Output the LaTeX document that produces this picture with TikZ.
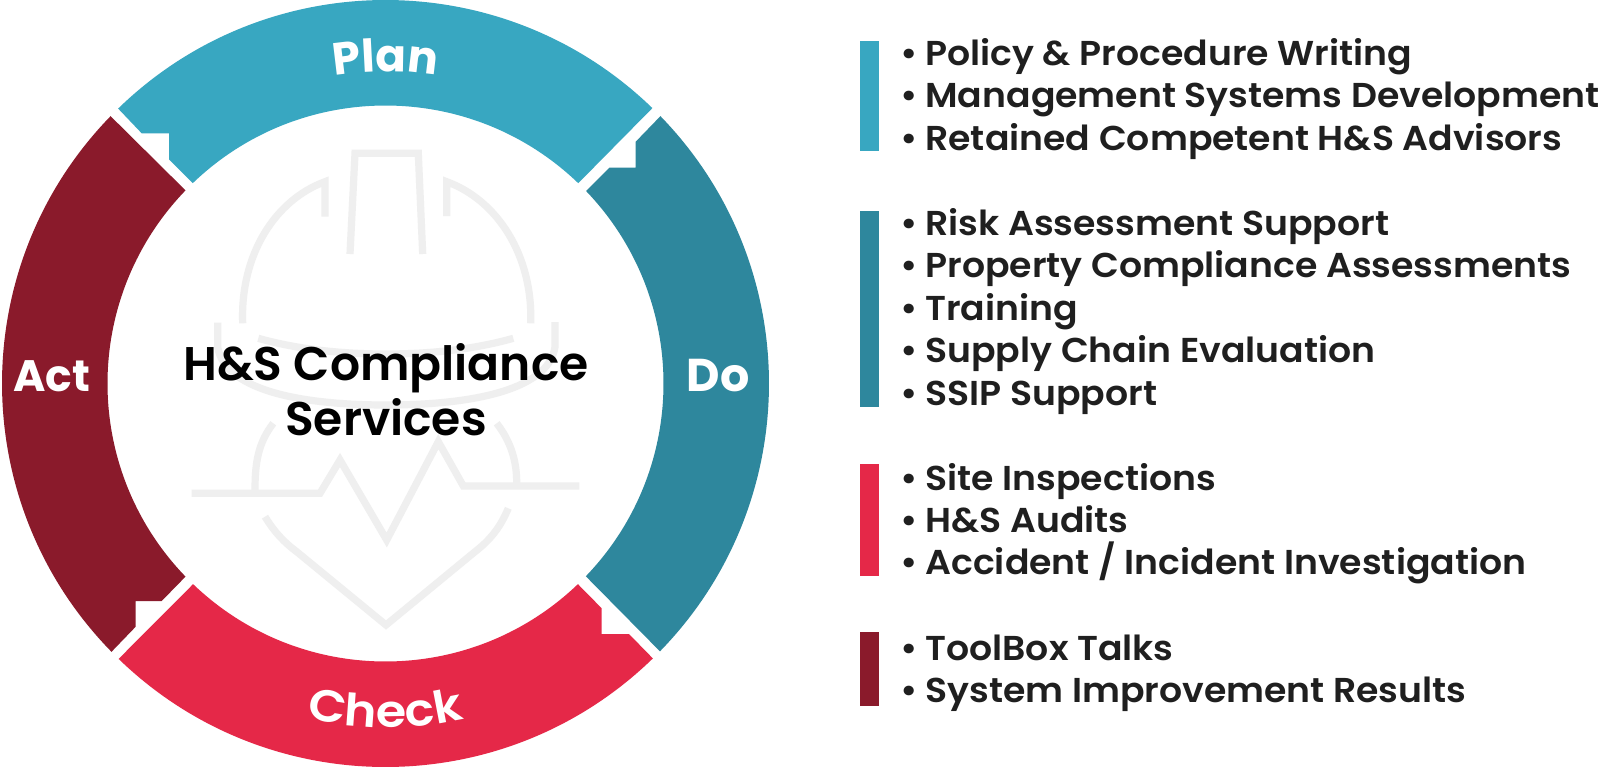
\documentclass[tikz,border=0pt]{standalone}
\usepackage{fontspec}
\setmainfont{Poppins}
\newfontfamily\listfont[FakeStretch=1.05]{Poppins SemiBold}
\newfontfamily\titlefont{Poppins SemiBold}
\newfontfamily\ringfont[FakeStretch=1.1]{Poppins SemiBold}
\usetikzlibrary{decorations.text}
\definecolor{planblue}{HTML}{38A7C1}
\definecolor{doteal}{HTML}{2E879D}
\definecolor{checkred}{HTML}{E52848}
\definecolor{actred}{HTML}{8A1A2B}
\definecolor{helmetgray}{HTML}{EFEFEF}
\tikzset{
  helmet/.style={draw=helmetgray, line width=3.6pt},
  title/.style={font=\titlefont\fontsize{23.6}{27.5}\selectfont, align=center, text=black},
  phase/.style={font=\bfseries\fontsize{23}{27}\selectfont, text=white},
  service/.style={font=\listfont\fontsize{17.25}{20}\selectfont, anchor=base west, text=black!88, inner sep=0pt},
}
\begin{document}
\begin{tikzpicture}[x=0.5pt, y=0.5pt]
    \useasboundingbox (0,0) rectangle (1600,768);
    \fill[white] (0,0) rectangle (1600,768);
    \coordinate (c) at (385.5,384.5);

    % helmet
    \draw[helmet] (350,514) -- (355,614.7) -- (418.3,614.7) -- (422.7,514);
    \draw[helmet] (325,551.3) -- (325,586.3) .. controls (275,568) and (240,513) .. (242.7,444.7);
    \draw[helmet] (446.7,552) -- (446.7,586.3) .. controls (497,568) and (533,513) .. (530.7,444.7);
    \draw[helmet] (217.7,445.3) -- (217.7,421) .. controls (225,375) and (310,363) .. (386,363)
      .. controls (462,363) and (548,375) .. (555,421) -- (555,446);
    \draw[helmet] (258.3,429.7) .. controls (300,418) and (345,414) .. (386,414)
      .. controls (427,414) and (472,418) .. (513.3,429.7);
    \draw[helmet] (273.3,344.7) .. controls (258,325) and (255,305) .. (255,278);
    \draw[helmet] (496.7,344.7) .. controls (512,325) and (516.7,305) .. (516.7,285);
    \draw[helmet] (191.7,274.7) -- (320,274.7) -- (340,308) -- (386.7,228) -- (438.3,326.3) -- (463.3,282) -- (579.3,282);
    \draw[helmet] (265,251.3) .. controls (275,235) and (285,225) .. (296.7,216.3) -- (386,143) -- (475,216.3)
      .. controls (490,228) and (500,240) .. (508.3,259.7);

    % ring
    \fill[planblue] ([shift={(134.2:383.5)}]c) arc[start angle=134.2, end angle=45.9, radius=383.5]
      -- ([shift={(46.1:278)}]c) arc[start angle=46.1, end angle=133.9, radius=278]
      -- (169,608.7) -- (169,634.7) -- (141.7,634.7) -- cycle;
    \fill[doteal] ([shift={(44.2:383.5)}]c) arc[start angle=44.2, end angle=-44.3, radius=383.5]
      -- ([shift={(-43.9:278)}]c) arc[start angle=-43.9, end angle=43.8, radius=278]
      -- (609.3,600.3) -- (635.7,600.3) -- (635.7,626.3) -- cycle;
    \fill[checkred] ([shift={(-45.8:383.5)}]c) arc[start angle=-45.8, end angle=-134.1, radius=383.5]
      -- ([shift={(-133.8:278)}]c) arc[start angle=-133.8, end angle=-46.2, radius=278]
      -- (601.7,159.7) -- (601.7,134) -- (629,134) -- cycle;
    \fill[actred] ([shift={(224.4:383.5)}]c) arc[start angle=224.4, end angle=135.8, radius=383.5]
      -- ([shift={(136:278)}]c) arc[start angle=136, end angle=224, radius=278]
      -- (161.7,167) -- (135.7,167) -- (135.7,141.3) -- cycle;

    % names on the ring
    \path[decorate, decoration={text along path, text align=center,
      text={|\bfseries\fontsize{22.6}{27}\selectfont\color{white}|Plan}}]
      ([shift={(130:312)}]c) arc[start angle=130, end angle=50, radius=312];
    \path[decorate, decoration={text along path, text align=center,
      text={|\ringfont\fontsize{22.4}{27}\selectfont\color{white}|Check}}]
      ([shift={(230:344)}]c) arc[start angle=230, end angle=310, radius=344];
    \node[phase, font=\bfseries\fontsize{22}{27}\selectfont] (act) at (52,392) {Act};
    \node[phase] (do) at (718,392) {Do};

    \node[title] (services) at (386,378) {H\&S Compliance\\Services};

    % bars
    \fill[planblue] (860,617) rectangle (879,727);
    \fill[doteal] (860,361) rectangle (879,557);
    \fill[checkred] (860,192) rectangle (879,304);
    \fill[actred] (860,62) rectangle (879,136);

    % lists
    \foreach \y/\name in {703/Policy \& Procedure Writing, 661/Management Systems Development, 618/Retained Competent H\&S Advisors,
        533/Risk Assessment Support, 491/Property Compliance Assessments, 448/Training, 406/Supply Chain Evaluation, 363/SSIP Support,
        278/Site Inspections, 236/H\&S Audits, 194/{Accident / Incident Investigation},
        108/ToolBox Talks, 66/System Improvement Results} {
        \node[service] (line\y) at (925,\y) {\name};
        \node[service] (dot\y) at (900,\y) {•};
      }
  \end{tikzpicture}
\end{document}
